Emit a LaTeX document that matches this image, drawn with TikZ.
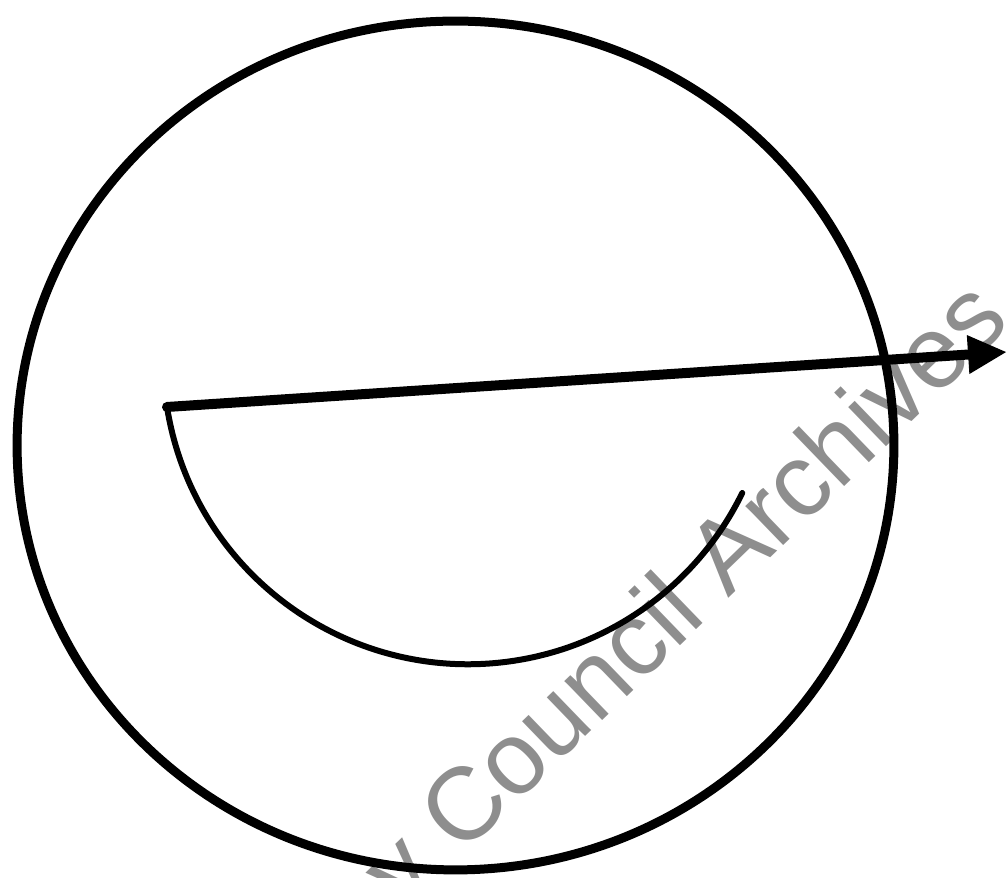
\documentclass[tikz,border=0pt]{standalone}
\usepackage{fontspec}
\setmainfont{Liberation Sans}
\usetikzlibrary{arrows.meta}
\definecolor{wmgray}{RGB}{142,142,142}
\begin{document}
\begin{tikzpicture}[x=0.02cm,y=0.02cm,
  rim/.style={line width=0.18cm},
  shaft/.style={line width=0.2cm, line cap=round, -{Triangle[length=0.78cm,width=0.72cm]}},
  sweep/.style={line width=0.12cm, line cap=round},
  wm/.style={text=wmgray, font=\fontsize{58.6}{60}\selectfont, rotate=44, anchor=base west, inner sep=0pt}]
\useasboundingbox (0,0) rectangle (1008,878);
\begin{scope}
\clip (0,0) rectangle (1008,878);
\node[wm] (wm) at (403.5,-34.6) {y Council Archives};
\end{scope}
\draw[rim] (455.5,432.5) ellipse [x radius=8.77cm, y radius=8.49cm];
\coordinate (o) at (167,471);
\coordinate (t) at (1007,526);
\draw[sweep] (o) arc[start angle=189, end angle=334, radius=6.1cm];
\draw[shaft] (o) -- (t);
\end{tikzpicture}
\end{document}
